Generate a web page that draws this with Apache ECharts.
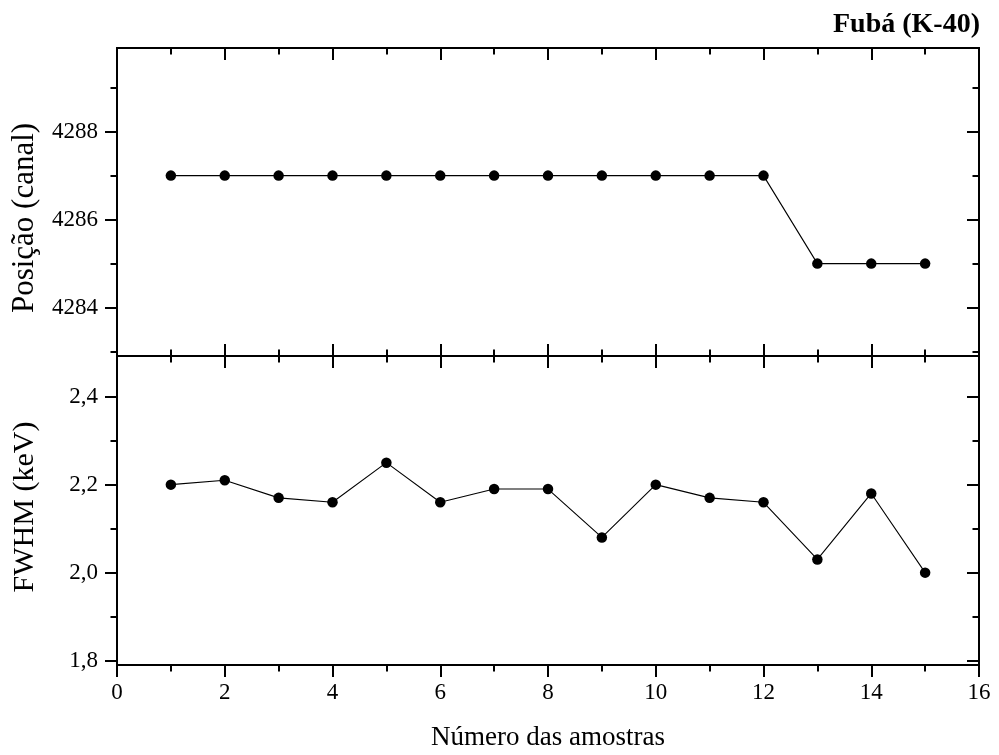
<!DOCTYPE html>
<html>
<head>
<meta charset="utf-8">
<script src="https://cdn.jsdelivr.net/npm/echarts@6/dist/echarts.min.js"></script>
<style>
  html, body { margin: 0; padding: 0; background: #fff; }
  #chart { width: 999px; height: 755px; }
</style>
</head>
<body>
<div id="chart"></div>
<script>
// Sample numbers and measured peak data for K-40 in fubá
const sampleNo = [1, 2, 3, 4, 5, 6, 7, 8, 9, 10, 11, 12, 13, 14, 15];
const posicao = [4287, 4287, 4287, 4287, 4287, 4287, 4287, 4287, 4287, 4287, 4287, 4287, 4285, 4285, 4285];
const fwhm = [2.20, 2.21, 2.17, 2.16, 2.25, 2.16, 2.19, 2.19, 2.08, 2.20, 2.17, 2.16, 2.03, 2.18, 2.00];

// Tick positions
const posMajorTicks = [4284, 4286, 4288];
const posMinorTicks = [4283, 4285, 4287, 4289];
const fwhmMajorTicks = [1.8, 2.0, 2.2, 2.4];
const fwhmMinorTicks = [1.9, 2.1, 2.3];

const FONT = '"Liberation Serif", "Times New Roman", serif';
const INK = '#000';
const MAJOR_LEN = 12;
const MINOR_LEN = 6.5;

function xAxis(gridIndex, position, inside, showLabels) {
  return {
    type: 'value', gridIndex, position, min: 0, max: 16, interval: 2,
    axisLine: { show: true, onZero: false, lineStyle: { color: INK, width: 2 } },
    axisTick: { show: true, inside, length: MAJOR_LEN, lineStyle: { color: INK, width: 2 } },
    minorTick: { show: true, splitNumber: 2, length: MINOR_LEN, lineStyle: { color: INK, width: 2 } },
    axisLabel: { show: showLabels, color: INK, fontFamily: FONT, fontSize: 23, margin: 16 },
    splitLine: { show: false },
    minorSplitLine: { show: false }
  };
}

function yAxis(gridIndex, position, min, max, ticks, len, inside, labelFmt) {
  return {
    type: 'value', gridIndex, position, min, max,
    axisLine: { show: true, onZero: false, lineStyle: { color: INK, width: 2 } },
    axisTick: { show: true, inside, length: len, customValues: ticks, lineStyle: { color: INK, width: 2 } },
    axisLabel: labelFmt
      ? { show: true, customValues: ticks, formatter: labelFmt, color: INK, fontFamily: FONT, fontSize: 23, margin: 19 }
      : { show: false },
    splitLine: { show: false }
  };
}

const POS_MIN = 4282.9, POS_MAX = 4289.9;
const FW_MIN = 1.79, FW_MAX = 2.4925;
const fmtPos = v => String(Math.round(v));
const fmtFw = v => v.toFixed(1).replace('.', ',');

const chart = echarts.init(document.getElementById('chart'), null, { renderer: 'canvas' });

chart.setOption({
  backgroundColor: '#fff',
  animation: false,
  grid: [
    { left: 117, right: 20, top: 48, height: 308 },
    { left: 117, right: 20, top: 356, height: 309 }
  ],
  xAxis: [
    xAxis(0, 'bottom', true, false),
    xAxis(0, 'top', true, false),
    xAxis(1, 'bottom', false, true),
    xAxis(1, 'top', true, false)
  ],
  yAxis: [
    yAxis(0, 'left', POS_MIN, POS_MAX, posMajorTicks, MAJOR_LEN, false, fmtPos),
    yAxis(0, 'left', POS_MIN, POS_MAX, posMinorTicks, MINOR_LEN, false, null),
    yAxis(0, 'right', POS_MIN, POS_MAX, posMajorTicks, MAJOR_LEN, true, null),
    yAxis(0, 'right', POS_MIN, POS_MAX, posMinorTicks, MINOR_LEN, true, null),
    yAxis(1, 'left', FW_MIN, FW_MAX, fwhmMajorTicks, MAJOR_LEN, false, fmtFw),
    yAxis(1, 'left', FW_MIN, FW_MAX, fwhmMinorTicks, MINOR_LEN, false, null),
    yAxis(1, 'right', FW_MIN, FW_MAX, fwhmMajorTicks, MAJOR_LEN, true, null),
    yAxis(1, 'right', FW_MIN, FW_MAX, fwhmMinorTicks, MINOR_LEN, true, null)
  ],
  series: [
    {
      type: 'line', xAxisIndex: 0, yAxisIndex: 0,
      data: sampleNo.map((n, i) => [n, posicao[i]]),
      symbol: 'circle', symbolSize: 10.5,
      itemStyle: { color: INK },
      lineStyle: { color: INK, width: 1.1 }
    },
    {
      type: 'line', xAxisIndex: 2, yAxisIndex: 4,
      data: sampleNo.map((n, i) => [n, fwhm[i]]),
      symbol: 'circle', symbolSize: 10.5,
      itemStyle: { color: INK },
      lineStyle: { color: INK, width: 1.1 }
    }
  ],
  graphic: [
    {
      type: 'text', right: 19, top: 11,
      style: { text: 'Fubá (K-40)', font: 'bold 28px ' + FONT, fill: INK }
    },
    {
      type: 'text', x: 25, y: 218, rotation: Math.PI / 2,
      style: { text: 'Posição (canal)', font: '31px ' + FONT, fill: INK, align: 'center', verticalAlign: 'middle' }
    },
    {
      type: 'text', x: 25, y: 507, rotation: Math.PI / 2,
      style: { text: 'FWHM (keV)', font: '30px ' + FONT, fill: INK, align: 'center', verticalAlign: 'middle' }
    },
    {
      type: 'text', x: 548, y: 738,
      style: { text: 'Número das amostras', font: '27px ' + FONT, fill: INK, align: 'center', verticalAlign: 'middle' }
    }
  ]
});
</script>
</body>
</html>
